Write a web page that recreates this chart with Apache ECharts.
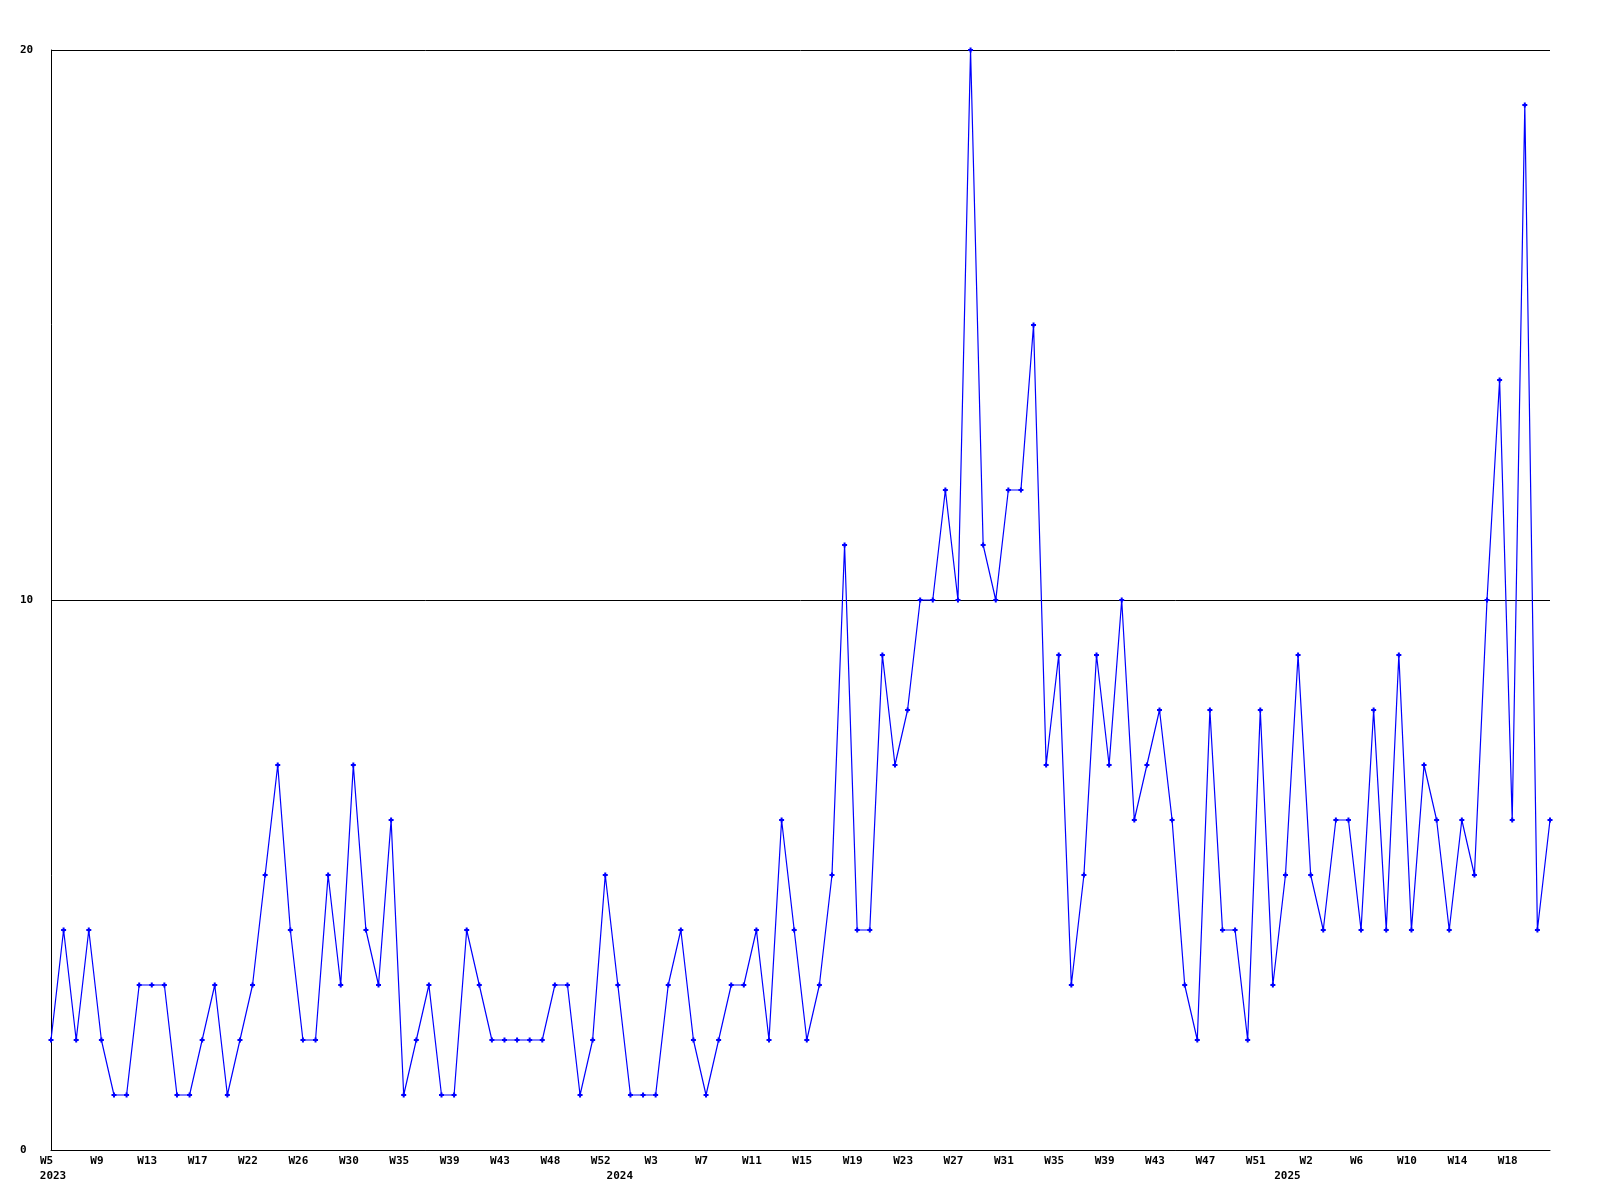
<!DOCTYPE html>
<html>
<head>
<meta charset="utf-8">
<script src="https://cdn.jsdelivr.net/npm/echarts@6/dist/echarts.min.js"></script>
<style>
html,body{margin:0;padding:0;background:#fff;}
#chart{width:1600px;height:1200px;}
</style>
</head>
<body>
<div id="chart"></div>
<script>
// Weekly values, 2023-W05 .. 2025-W20
const values = [
  2,4,2,4,2,1,1,3,3,3,1,1,2,3,1,2,3,5,7,4,
  2,2,5,3,7,4,3,6,1,2,3,1,1,4,3,2,2,2,2,2,
  3,3,1,2,5,3,1,1,1,3,4,2,1,2,3,3,4,2,6,4,
  2,3,5,11,4,4,9,7,8,10,10,12,10,20,11,10,12,12,15,7,
  9,3,5,9,7,10,6,7,8,6,3,2,8,4,4,2,8,3,5,9,
  5,4,6,6,4,8,4,9,4,7,6,4,6,5,10,14,6,19,4,6
];
// Week labels shown every 4th point
const tickLabels = ['W5','W9','W13','W17','W22','W26','W30','W35','W39','W43','W48','W52',
  'W3','W7','W11','W15','W19','W23','W27','W31','W35','W39','W43','W47','W51',
  'W2','W6','W10','W14','W18'];
// Year labels, keyed by the week category they sit under
const yearLabels = {'2023-W05':'2023','2023-W50':'2024','2024-W51':'2025'};
const yTicks = [0, 10, 20];

// week categories
const weekYears = [[2023,5,52],[2024,1,52],[2025,1,20]];
const categories = [];
weekYears.forEach(([y,a,b]) => { for (let w=a; w<=b; w++) categories.push(y + '-W' + String(w).padStart(2,'0')); });

const font = {fontFamily:'DejaVu Sans Mono', fontWeight:'bold', fontSize:11, color:'#000'};

const chart = echarts.init(document.getElementById('chart'), null, {renderer:'canvas'});
chart.setOption({
  animation:false,
  backgroundColor:'#fff',
  grid:{left:51, right:50, top:50, bottom:50, containLabel:false},
  xAxis:[{
    type:'category', data:categories, boundaryGap:false,
    axisLine:{show:true, lineStyle:{color:'#000', width:1}},
    axisTick:{show:false},
    splitLine:{show:false},
    axisLabel:Object.assign({interval:3, margin:6, padding:[0,9,0,0],
      formatter:(v,i)=> tickLabels[Math.round(i/4)] || ''}, font)
  },{
    type:'category', data:categories, boundaryGap:false, position:'bottom',
    axisLine:{show:false}, axisTick:{show:false}, splitLine:{show:false},
    axisLabel:Object.assign({interval:0, margin:21, padding:[0,0,0,4],
      formatter:(v)=> yearLabels[v] || ''}, font)
  }],
  yAxis:{
    type:'value', min:yTicks[0], max:yTicks[yTicks.length-1], interval:10,
    axisLine:{show:true, lineStyle:{color:'#000', width:1}},
    axisTick:{show:false},
    splitLine:{show:true, lineStyle:{color:'#000', width:1}},
    axisLabel:Object.assign({align:'left', margin:31}, font)
  },
  series:[{
    type:'line', data:values, xAxisIndex:0,
    symbol:'path://M1.5,0H3.5V1.5H5V3.5H3.5V5H1.5V3.5H0V1.5H1.5Z', symbolSize:5, showSymbol:true,
    lineStyle:{color:'#0000ff', width:1.2},
    itemStyle:{color:'#0000ff', borderWidth:0}
  }]
});
</script>
</body>
</html>
